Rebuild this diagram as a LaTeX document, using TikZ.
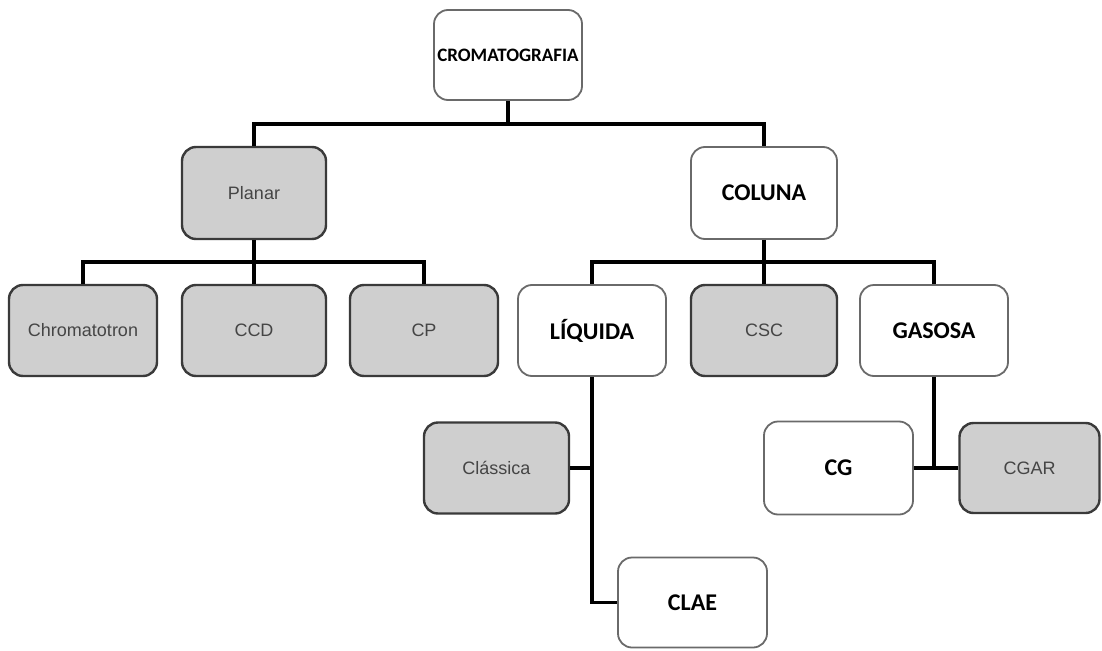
\documentclass[tikz,border=0pt]{standalone}
\usepackage{fontspec}
\newfontfamily\carlito{Carlito}
\newfontfamily\arialf{Liberation Sans}
\definecolor{boxgray}{HTML}{CFCFCF}
\definecolor{txtgray}{HTML}{454545}
\definecolor{edgegray}{HTML}{3A3A3A}
\definecolor{edgelight}{HTML}{6A6A6A}
\tikzset{
  base/.style={rounded corners=14pt, inner sep=0pt, align=center},
  graybox/.style={base, draw=edgegray, line width=2.4pt, fill=boxgray, text=txtgray,
    font=\arialf\fontsize{18}{21}\selectfont},
  whitebox/.style={base, draw=edgelight, line width=1.8pt, fill=white, text=black,
    font=\carlito\bfseries\fontsize{24}{28}\selectfont},
  conn/.style={line width=3.8pt, black}
}
\begin{document}
\begin{tikzpicture}[x=1pt, y=-1pt]
\useasboundingbox (0,0) rectangle (1102,650);
% nodes
\node[whitebox, minimum width=148pt, minimum height=90pt, font=\carlito\bfseries\fontsize{19}{23}\selectfont] (crom) at (508,55) {CROMATOGRAFIA};
\node[graybox, minimum width=144pt, minimum height=92pt] (planar) at (254,193) {Planar};
\node[whitebox, minimum width=146pt, minimum height=92pt] (coluna) at (764,193) {COLUNA};
\node[graybox, minimum width=148pt, minimum height=91pt] (chrom) at (83,330.5) {Chromatotron};
\node[graybox, minimum width=144pt, minimum height=91pt] (ccd) at (254,330.5) {CCD};
\node[graybox, minimum width=148pt, minimum height=91pt] (cp) at (424,330.5) {CP};
\node[whitebox, minimum width=148pt, minimum height=91pt] (liq) at (592,330.5) {LÍQUIDA};
\node[graybox, minimum width=146pt, minimum height=91pt] (csc) at (764,330.5) {CSC};
\node[whitebox, minimum width=148pt, minimum height=91pt] (gas) at (934,330.5) {GASOSA};
\node[graybox, minimum width=145pt, minimum height=91pt] (clas) at (496.5,468) {Clássica};
\node[whitebox, minimum width=149pt, minimum height=93pt] (cg) at (838.5,468) {CG};
\node[graybox, minimum width=140pt, minimum height=90pt] (cgar) at (1029.5,468) {CGAR};
\node[whitebox, minimum width=149pt, minimum height=90pt] (clae) at (692.5,602.5) {CLAE};
% junctions
\coordinate (j1) at (508,124);
\coordinate (j2) at (254,262);
\coordinate (j3) at (764,262);
% connectors
\draw[conn] (crom.south) -- (j1);
\draw[conn] (planar.north) |- (j1) -| (coluna.north);
\draw[conn] (planar.south) -- (j2);
\draw[conn] (chrom.north) |- (j2) -| (cp.north);
\draw[conn] (j2) -- (ccd.north);
\draw[conn] (coluna.south) -- (j3);
\draw[conn] (liq.north) |- (j3) -| (gas.north);
\draw[conn] (j3) -- (csc.north);
\draw[conn] (liq.south) |- (clae.west);
\draw[conn] (clas.east) -- (clas.east -| liq.south);
\draw[conn] (gas.south) -- (gas.south |- cg.east);
\draw[conn] (cg.east) -- (cgar.west);
\end{tikzpicture}
\end{document}
